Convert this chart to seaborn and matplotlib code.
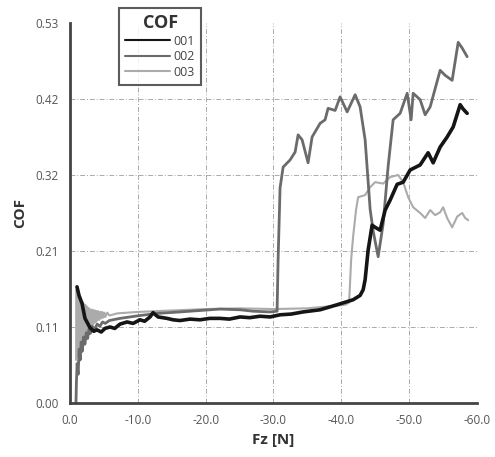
import numpy as np
import pandas as pd
import seaborn as sns
import matplotlib.pyplot as plt
from matplotlib.ticker import MultipleLocator, FixedLocator, FuncFormatter

# Data (Fz in N, COF)
fz_001 = [-1.03, -1.33, -1.77, -2.21, -2.95, -3.50, -3.98, -4.60, -5.16, -5.90,
          -6.60, -7.37, -8.41, -9.30, -10.32, -11.00, -11.80, -12.24, -12.98, -14.31,
          -15.20, -16.22, -17.70, -19.17, -20.60, -22.12, -23.50, -25.07, -26.50, -28.02,
          -29.50, -30.97, -32.60, -34.37, -36.87, -39.38, -41.74, -42.77, -43.22, -43.51,
          -43.95, -44.54, -44.99, -45.72, -46.46, -47.20, -48.23, -49.12, -50.15, -51.62,
          -52.80, -53.54, -54.57, -55.60, -56.49, -57.52, -57.96, -58.55]
cof_001 = [0.162, 0.150, 0.139, 0.118, 0.105, 0.100, 0.102, 0.099, 0.104, 0.106,
           0.104, 0.110, 0.113, 0.111, 0.116, 0.114, 0.120, 0.126, 0.120, 0.118,
           0.116, 0.115, 0.117, 0.116, 0.118, 0.118, 0.117, 0.120, 0.119, 0.121,
           0.120, 0.123, 0.124, 0.127, 0.130, 0.137, 0.144, 0.150, 0.158, 0.172,
           0.213, 0.248, 0.245, 0.241, 0.269, 0.283, 0.305, 0.308, 0.325, 0.332,
           0.349, 0.335, 0.357, 0.371, 0.385, 0.416, 0.410, 0.404]

fz_002 = [-0.88, -0.95, -1.05, -1.20, -1.35, -1.50, -1.65, -1.80, -2.00, -2.20,
          -2.40, -2.60, -2.80, -3.00, -3.30, -3.60, -4.00, -4.40, -4.80, -5.20,
          -5.80, -7.37, -10.32, -12.98, -16.22, -19.17, -22.12, -25.07, -26.99, -29.50,
          -30.53, -30.68, -30.97, -31.42, -32.45, -33.19, -33.63, -34.22, -35.10, -35.69,
          -36.87, -37.61, -38.05, -39.09, -39.82, -40.86, -42.04, -42.77, -43.51, -44.25,
          -44.69, -45.43, -46.17, -46.90, -47.64, -48.67, -49.71, -50.29, -50.59, -51.62,
          -52.36, -53.10, -54.57, -55.31, -56.34, -57.23, -57.82, -58.55]
cof_002 = [0.000, 0.030, 0.055, 0.040, 0.075, 0.060, 0.085, 0.072, 0.092, 0.082,
           0.098, 0.090, 0.103, 0.097, 0.107, 0.102, 0.110, 0.107, 0.113, 0.111,
           0.115, 0.118, 0.122, 0.125, 0.127, 0.129, 0.131, 0.130, 0.128, 0.127,
           0.128, 0.200, 0.300, 0.329, 0.339, 0.350, 0.374, 0.367, 0.335, 0.371,
           0.390, 0.395, 0.411, 0.408, 0.427, 0.406, 0.430, 0.413, 0.367, 0.270,
           0.240, 0.204, 0.250, 0.330, 0.395, 0.404, 0.432, 0.395, 0.432, 0.423,
           0.402, 0.413, 0.464, 0.457, 0.450, 0.503, 0.495, 0.483]

fz_003 = [-0.90, -0.98, -1.05, -1.12, -1.20, -1.28, -1.35, -1.42, -1.50, -1.58,
          -1.65, -1.72, -1.80, -1.88, -1.95, -2.02, -2.10, -2.18, -2.25, -2.32,
          -2.40, -2.48, -2.55, -2.62, -2.70, -2.78, -2.85, -2.92, -3.00, -3.10,
          -3.20, -3.30, -3.40, -3.50, -3.60, -3.70, -3.80, -3.90, -4.00, -4.15,
          -4.30, -4.45, -4.60, -4.75, -4.90, -5.05, -5.20, -5.50, -5.80, -7.00,
          -10.00, -15.00, -20.00, -25.00, -30.00, -35.00, -40.56, -41.15, -41.45, -41.74,
          -42.18, -42.48, -43.51, -44.25, -44.99, -46.17, -47.20, -48.38, -49.12, -49.85,
          -50.59, -51.62, -52.36, -53.10, -53.83, -54.57, -55.01, -55.60, -56.34, -57.08,
          -57.82, -58.26, -58.70]
cof_003 = [0.060, 0.158, 0.065, 0.154, 0.070, 0.150, 0.075, 0.147, 0.080, 0.145,
           0.084, 0.142, 0.088, 0.140, 0.092, 0.138, 0.095, 0.137, 0.098, 0.136,
           0.100, 0.134, 0.102, 0.133, 0.104, 0.132, 0.106, 0.131, 0.107, 0.130,
           0.109, 0.130, 0.110, 0.129, 0.112, 0.129, 0.113, 0.128, 0.115, 0.128,
           0.116, 0.127, 0.118, 0.127, 0.119, 0.126, 0.120, 0.126, 0.122, 0.125,
           0.127, 0.129, 0.131, 0.132, 0.131, 0.132, 0.137, 0.140, 0.200, 0.232,
           0.270, 0.287, 0.290, 0.301, 0.308, 0.306, 0.315, 0.318, 0.308, 0.287,
           0.273, 0.265, 0.258, 0.269, 0.262, 0.266, 0.273, 0.258, 0.245, 0.260,
           0.265, 0.258, 0.255]

series_names = ["001", "002", "003"]
series_colors = ["#151515", "#6b6b6b", "#ababab"]
series_widths = [2.6, 2.0, 1.5]

x_ticks = [0.0, -10.0, -20.0, -30.0, -40.0, -50.0, -60.0]
y_max = 0.53

df = pd.concat([
    pd.DataFrame({"Fz": fz_001, "COF": cof_001, "run": "001"}),
    pd.DataFrame({"Fz": fz_002, "COF": cof_002, "run": "002"}),
    pd.DataFrame({"Fz": fz_003, "COF": cof_003, "run": "003"}),
])

sns.set_style("white")
plt.rcParams["font.family"] = ["Open Sans", "DejaVu Sans"]

fig = plt.figure(figsize=(4.95, 4.57), dpi=100)
ax = fig.add_axes([0.1414, 0.1182, 0.8222, 0.8315])

for name, col, lw in zip(series_names[::-1], series_colors[::-1], series_widths[::-1]):
    sns.lineplot(data=df[df["run"] == name], x="Fz", y="COF", sort=False,
                 estimator=None, color=col, linewidth=lw, label=name, ax=ax)

ax.set_xlim(0, -60)
ax.set_ylim(0, y_max)

y_ticks = list(np.linspace(0, y_max, 6))
ax.xaxis.set_major_locator(FixedLocator(x_ticks))
ax.xaxis.set_minor_locator(MultipleLocator(5))
ax.yaxis.set_major_locator(FixedLocator(y_ticks))
ax.yaxis.set_minor_locator(FixedLocator([t + y_max / 10 for t in y_ticks[:-1]]))
ax.xaxis.set_major_formatter(FuncFormatter(lambda v, p: "%.1f" % v if v != 0 else "0.0"))
ax.yaxis.set_major_formatter(FuncFormatter(lambda v, p: "%.2f" % v))

for s in ["top", "right"]:
    ax.spines[s].set_visible(False)
for s in ["left", "bottom"]:
    ax.spines[s].set_color("#444444")
    ax.spines[s].set_linewidth(2)

ax.tick_params(which="major", direction="inout", length=10, width=2,
               color="#444444", labelsize=8.5, labelcolor="#555555", pad=3)
ax.tick_params(which="minor", direction="inout", length=6, width=2, color="#444444")

# grid only inside the plot area
for v in x_ticks[1:-1]:
    ax.axvline(v, color="#aaaaaa", lw=0.7, ls=(0, (5, 2, 1, 2)), zorder=0)
for v in y_ticks[1:-1]:
    ax.axhline(v, color="#aaaaaa", lw=0.7, ls=(0, (5, 2, 1, 2)), zorder=0)

ax.set_xlabel("Fz [N]", fontsize=11, fontweight="bold", color="#333333", labelpad=4)
ax.set_ylabel("COF", fontsize=11, fontweight="bold", color="#333333", labelpad=6)

handles, labels = ax.get_legend_handles_labels()
leg = ax.legend(handles[::-1], labels[::-1], title="COF", loc="upper left",
                bbox_to_anchor=(0.12, 1.04), frameon=True, fancybox=False,
                fontsize=9, handlelength=3.6, handletextpad=0.3,
                labelspacing=0.2, borderpad=0.5, borderaxespad=0,
                labelcolor="#444444")
leg.get_title().set_fontsize(13)
leg.get_title().set_fontweight("bold")
leg.get_title().set_color("#333333")
leg.get_frame().set_edgecolor("#333333")
leg.get_frame().set_linewidth(1.5)
for line in leg.get_lines():
    line.set_linewidth(1.5)

plt.savefig("out.png", dpi=100)
plt.close()
